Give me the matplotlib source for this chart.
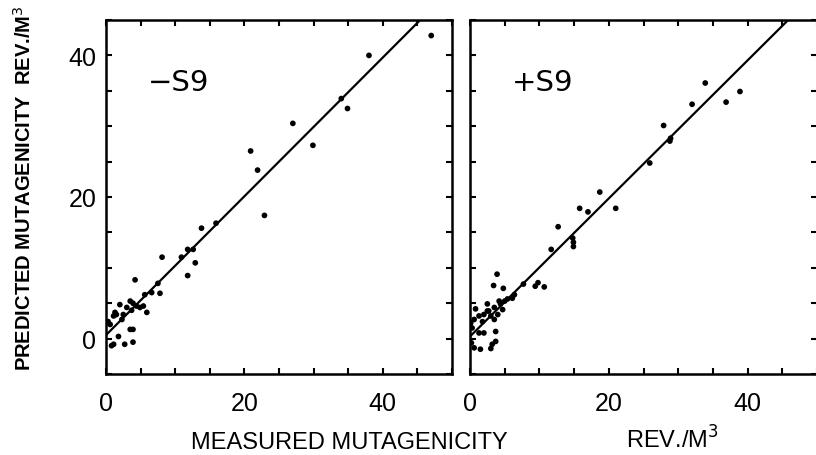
import matplotlib
matplotlib.use("Agg")
import matplotlib.pyplot as plt
import numpy as np

# ---- data ----
minus_x = [47.0, 38.0, 34.0, 34.9, 27.0, 29.9, 20.9, 21.9, 22.9, 15.9,
           13.8, 11.8, 12.6, 10.9, 8.1, 12.9, 11.8, 4.2, 7.5, 6.6,
           7.8, 5.6, 3.9, 2.0, 3.0, 3.7, 4.9, 5.9, 4.4, 1.3,
           1.1, 2.5, 0.3, 3.5, 2.3, 3.5, 3.9, 1.8, 1.1, 2.7,
           3.9, 0.8, 1.5, 5.4, 0.6]
minus_y = [42.8, 40.0, 33.9, 32.5, 30.4, 27.3, 26.5, 23.8, 17.4, 16.3,
           15.6, 12.6, 12.6, 11.5, 11.5, 10.7, 8.9, 8.3, 7.8, 6.5,
           6.4, 6.2, 5.0, 4.8, 4.4, 4.0, 4.4, 3.7, 4.6, 3.7,
           3.2, 3.4, 2.4, 5.3, 2.7, 1.3, 1.3, 0.3, -0.8, -0.8,
           -0.5, -1.0, 3.4, 4.6, 2.0]

plus_x = [33.9, 38.9, 36.9, 32.0, 27.9, 28.9, 28.8, 25.9, 18.7, 21.0,
          15.8, 17.0, 12.7, 14.8, 14.9, 14.9, 11.7, 7.7, 9.4, 10.7,
          9.8, 3.9, 3.4, 4.8, 6.4, 5.4, 6.1, 4.2, 3.5, 2.5,
          2.0, 4.0, 4.7, 3.0, 1.3, 0.6, 3.5, 2.7, 1.8, 0.1,
          0.3, 1.3, 2.0, 3.7, 3.7, 3.2, 0.6, 1.5, 3.0, 0.2,
          4.4, 2.5, 0.8, 5.0]
plus_y = [36.1, 34.9, 33.4, 33.1, 30.1, 28.3, 27.9, 24.8, 20.7, 18.4,
          18.4, 17.9, 15.8, 14.2, 13.6, 13.0, 12.6, 7.7, 7.4, 7.3,
          7.9, 9.1, 7.5, 7.1, 6.2, 5.6, 5.7, 5.3, 4.4, 3.9,
          3.4, 3.4, 4.1, 3.2, 3.2, 2.7, 2.7, 3.9, 2.4, 2.2,
          1.5, 0.8, 0.8, 1.0, -0.4, -0.8, -1.3, -1.5, -1.4, -0.6,
          4.9, 4.9, 4.2, 5.3]

# regression lines: (intercept, slope)
minus_fit = (0.5, 0.98)
plus_fit = (0.3, 0.975)

panel_labels = ["\u2212S9", "+S9"]
tick_labels = ["0", "20", "40"]
tick_values = [0, 20, 40]

# ---- figure ----
W, H = 816, 456
fig = plt.figure(figsize=(W / 100, H / 100), dpi=100)

axL = fig.add_axes([106 / W, 1 - 375 / H, 346 / W, 354 / H])
axR = fig.add_axes([470 / W, 1 - 375 / H, 347 / W, 354 / H])

tick_font = {"family": ["Liberation Sans", "DejaVu Sans"], "size": 18}

for ax, xs, ys, fit, lab in [(axL, minus_x, minus_y, minus_fit, panel_labels[0]),
                             (axR, plus_x, plus_y, plus_fit, panel_labels[1])]:
    ax.set_xlim(0, 50)
    ax.set_ylim(-5, 45)
    ax.scatter(xs, ys, s=17, color="black", edgecolors="none", zorder=3)
    lx = np.array([0, 50])
    ax.plot(lx, fit[0] + fit[1] * lx, color="black", lw=1.6, zorder=2)
    ax.text(6.0, 36.3, lab, fontsize=21, va="center", ha="left",
            family=["DejaVu Sans"])
    for sp in ax.spines.values():
        sp.set_linewidth(1.8)
    ax.set_xticks(tick_values)
    ax.set_xticklabels(tick_labels, fontdict=tick_font)
    ax.set_xticks(np.arange(0, 51, 5), minor=True)
    ax.set_yticks(tick_values)
    ax.set_yticks(np.arange(-5, 46, 5), minor=True)
    ax.tick_params(which="both", direction="in", top=True, right=True,
                   length=4, width=1.5)
    ax.tick_params(axis="x", which="major", pad=12)
    ax.tick_params(axis="y", which="major", pad=7)

axL.set_yticklabels(tick_labels, fontdict=tick_font)
axR.set_yticklabels([])

fig.text(24 / W, 1 - 188 / H, "PREDICTED MUTAGENICITY  REV./M$^{3}$",
         rotation=90, ha="center", va="center", fontsize=14.5, fontweight="bold",
         family=["Liberation Sans", "DejaVu Sans"])

lab_font = ["Liberation Sans", "DejaVu Sans"]
fig.text(349 / W, 1 - 449 / H, "MEASURED MUTAGENICITY", ha="center",
         va="baseline", fontsize=17, family=lab_font)
fig.text(672 / W, 1 - 449 / H, "REV./M$^{3}$", ha="center",
         va="baseline", fontsize=17, family=lab_font)

fig.savefig("out.png", dpi=100)
